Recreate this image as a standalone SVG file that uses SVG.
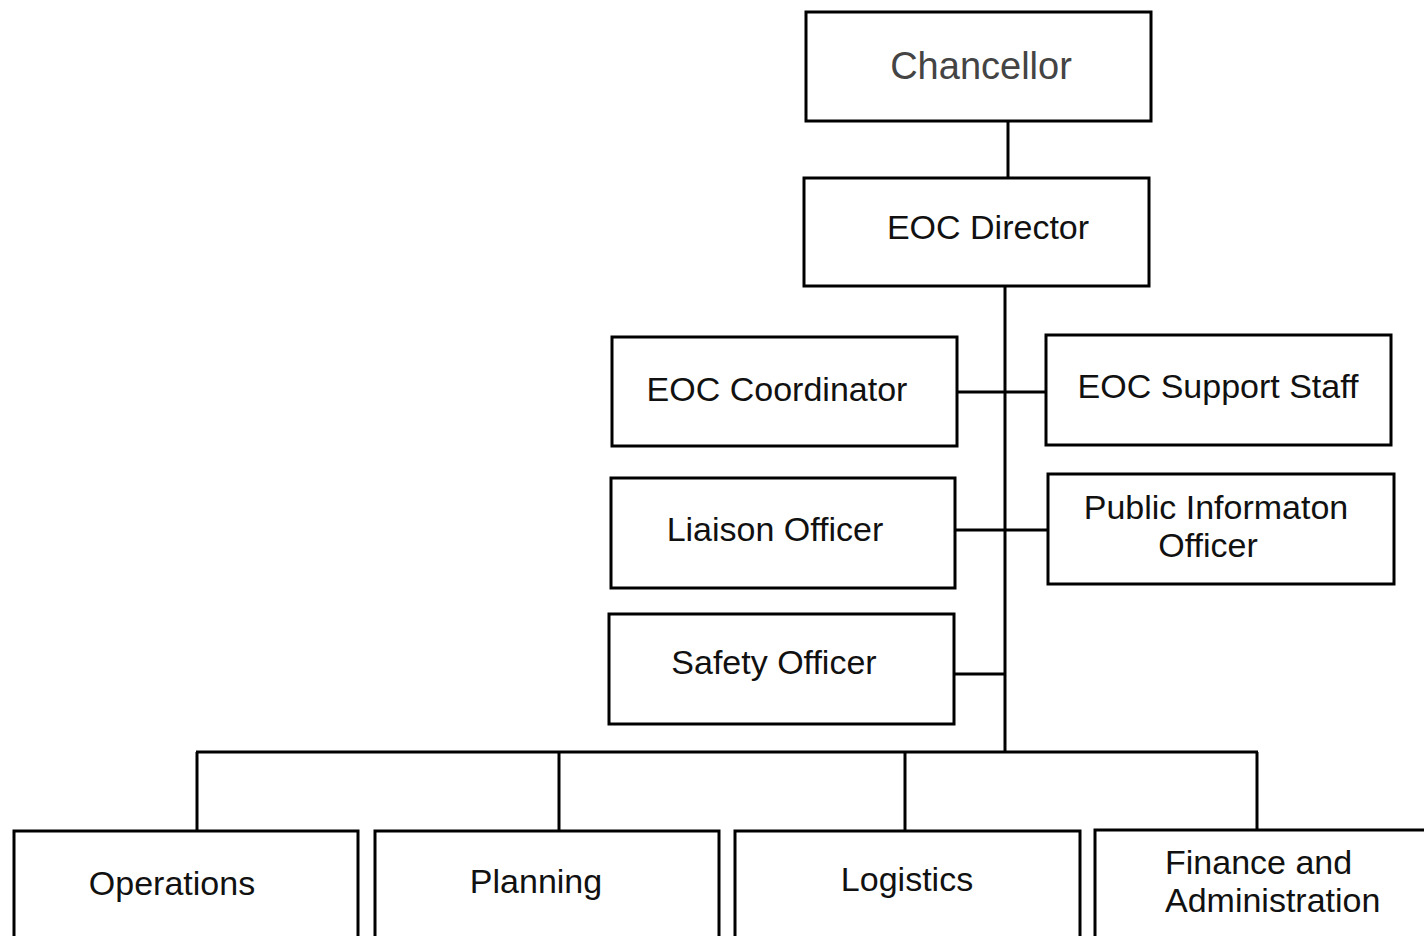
<svg xmlns="http://www.w3.org/2000/svg" width="1424" height="936" viewBox="0 0 1424 936">
<style>
.box{fill:#fff;stroke:#000;stroke-width:3}
.lbl{font-family:"Liberation Sans",Arial,sans-serif;font-size:34px;fill:#111}
.c{text-anchor:middle}
.conn line{stroke:#000;stroke-width:3}
</style>
<rect width="1424" height="936" fill="#fff"/>
<g class="conn">
<line x1="1008" y1="121" x2="1008" y2="178"/>
<line x1="1005" y1="287" x2="1005" y2="752"/>
<line x1="957" y1="392" x2="1046" y2="392"/>
<line x1="955" y1="530" x2="1048" y2="530"/>
<line x1="954" y1="674" x2="1005" y2="674"/>
<line x1="196" y1="752" x2="1258" y2="752"/>
<line x1="197" y1="752" x2="197" y2="831"/>
<line x1="559" y1="752" x2="559" y2="831"/>
<line x1="905" y1="752" x2="905" y2="831"/>
<line x1="1257" y1="752" x2="1257" y2="830"/>
</g>
<g id="chancellor"><rect class="box" x="806" y="12" width="345" height="109"/><text class="lbl c" x="981" y="79" style="font-size:38px;fill:#444">Chancellor</text></g>
<g id="eoc-director"><rect class="box" x="804" y="178" width="345" height="108"/><text class="lbl c" x="988" y="239">EOC Director</text></g>
<g id="eoc-coordinator"><rect class="box" x="612" y="337" width="345" height="109"/><text class="lbl c" x="777" y="401">EOC Coordinator</text></g>
<g id="eoc-support-staff"><rect class="box" x="1046" y="335" width="345" height="110"/><text class="lbl c" x="1218" y="398">EOC Support Staff</text></g>
<g id="liaison-officer"><rect class="box" x="611" y="478" width="344" height="110"/><text class="lbl c" x="775" y="541">Liaison Officer</text></g>
<g id="public-information-officer"><rect class="box" x="1048" y="474" width="346" height="110"/><text class="lbl c" x="1216" y="519">Public Informaton</text><text class="lbl c" x="1208" y="557">Officer</text></g>
<g id="safety-officer"><rect class="box" x="609" y="614" width="345" height="110"/><text class="lbl c" x="774" y="674">Safety Officer</text></g>
<g id="operations"><rect class="box" x="14" y="831" width="344" height="130"/><text class="lbl c" x="172" y="895">Operations</text></g>
<g id="planning"><rect class="box" x="375" y="831" width="344" height="130"/><text class="lbl c" x="536" y="893">Planning</text></g>
<g id="logistics"><rect class="box" x="735" y="831" width="345" height="130"/><text class="lbl c" x="907" y="891">Logistics</text></g>
<g id="finance-administration"><rect class="box" x="1095" y="830" width="345" height="130"/><text class="lbl" x="1165" y="874">Finance and</text><text class="lbl" x="1165" y="912">Administration</text></g>
</svg>
